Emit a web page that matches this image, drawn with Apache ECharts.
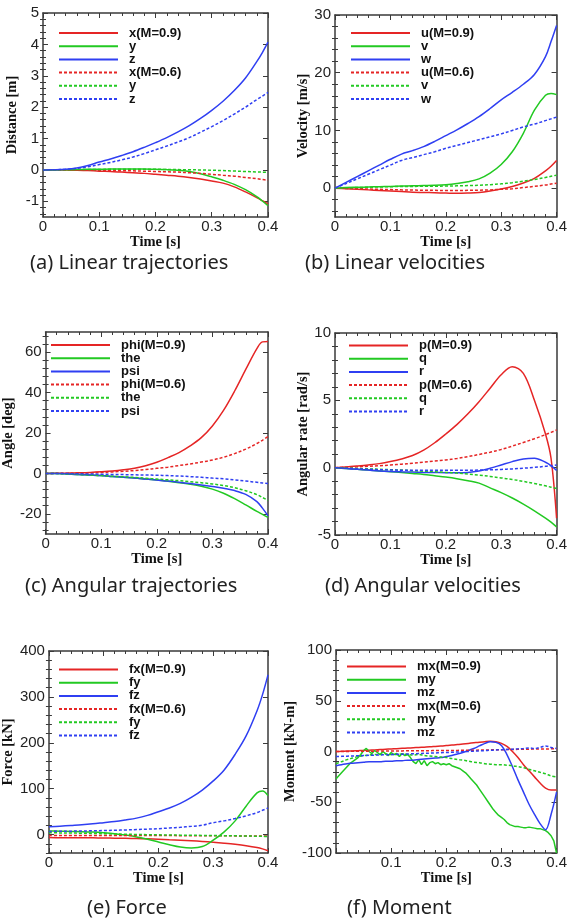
<!DOCTYPE html>
<html><head><meta charset="utf-8">
<script src="https://cdn.jsdelivr.net/npm/echarts@6/dist/echarts.min.js"></script>
<style>html,body{margin:0;padding:0;background:#fff}#c{width:570px;height:922px}</style>
</head><body><div id="c"></div>
<script>
// ---------- time axes ----------
const timeA = [0,0.02,0.04,0.06,0.08,0.10,0.12,0.14,0.16,0.18,0.20,0.22,0.24,0.26,0.28,0.30,0.32,0.34,0.36,0.38,0.39,0.40];
const timeF = [0,0.01,0.02,0.03,0.04,0.05,0.06,0.07,0.08,0.09,0.10,0.11,0.12,0.13,0.14,0.15,0.16,0.17,0.18,0.19,0.20,0.21,0.22,0.23,0.24,0.25,0.26,0.27,0.28,0.29,0.30,0.31,0.32,0.33,0.34,0.35,0.36,0.37,0.38,0.39,0.40];
const timeFine = [0,0.005,0.01,0.015,0.02,0.025,0.03,0.035,0.04,0.045,0.05,0.055,0.06,0.065,0.07,0.075,0.08,0.085,0.09,0.095,0.10,0.105,0.11,0.115,0.12,0.125,0.13,0.135,0.14,0.145,0.15,0.155,0.16,0.165,0.17,0.175,0.18,0.185,0.19,0.195,0.20,0.205,0.21,0.215,0.22,0.225,0.23,0.235,0.24,0.245,0.25,0.255,0.26,0.265,0.27,0.275,0.28,0.285,0.29,0.295,0.30,0.305,0.31,0.315,0.32,0.325,0.33,0.335,0.34,0.345,0.35,0.355,0.36,0.365,0.37,0.375,0.38,0.385,0.39,0.395,0.40];

// ---------- (a) Linear trajectories [m] ----------
const aLabels = ['x(M=0.9)','y','z','x(M=0.6)','y','z'];
const aX9 = [0,0,-0.005,-0.01,-0.02,-0.04,-0.05,-0.07,-0.09,-0.11,-0.14,-0.17,-0.2,-0.24,-0.29,-0.35,-0.42,-0.54,-0.7,-0.88,-0.98,-1.08];
const aY9 = [0,0,0.005,0.01,0.02,0.02,0.03,0.03,0.03,0.03,0.02,0.01,-0.01,-0.05,-0.12,-0.22,-0.33,-0.46,-0.63,-0.85,-0.99,-1.14];
const aZ9 = [0,0.005,0.02,0.06,0.14,0.25,0.35,0.46,0.58,0.72,0.87,1.03,1.21,1.41,1.64,1.9,2.19,2.53,2.93,3.45,3.74,4.07];
const aX6 = [0,0,0,-0.005,-0.01,-0.015,-0.02,-0.025,-0.03,-0.04,-0.05,-0.06,-0.07,-0.09,-0.11,-0.14,-0.17,-0.2,-0.24,-0.28,-0.305,-0.33];
const aY6 = [0,0,0.005,0.01,0.01,0.015,0.02,0.02,0.02,0.02,0.02,0.015,0.01,0.005,0,-0.01,-0.02,-0.035,-0.05,-0.065,-0.072,-0.08];
const aZ6 = [0,0.005,0.02,0.05,0.1,0.17,0.24,0.32,0.41,0.52,0.64,0.76,0.89,1.03,1.2,1.38,1.57,1.78,2.0,2.24,2.35,2.47];

// ---------- (b) Linear velocities [m/s] ----------
const bLabels = ['u(M=0.9)','v','w','u(M=0.6)','v','w'];
const bU9 = [0,-0.1,-0.2,-0.3,-0.4,-0.5,-0.6,-0.7,-0.75,-0.8,-0.85,-0.9,-0.85,-0.75,-0.5,-0.15,0.3,0.9,1.7,3.0,3.8,4.8];
const bV9 = [0,0.1,0.15,0.2,0.25,0.3,0.35,0.4,0.45,0.5,0.6,0.8,1.1,1.6,2.6,4.1,6.3,9.5,13.5,16.1,16.4,16.2];
const bW9 = [0,1,2,3,4,5,5.9,6.5,7.2,8.1,9.1,10.1,11.2,12.4,13.8,15.3,16.6,18.0,19.7,22.8,25.4,28.2];
const bU6 = [0,-0.05,-0.1,-0.15,-0.2,-0.25,-0.3,-0.33,-0.36,-0.38,-0.4,-0.4,-0.38,-0.35,-0.3,-0.2,-0.1,0.1,0.3,0.55,0.7,0.85];
const bV6 = [0,0.05,0.1,0.15,0.2,0.25,0.28,0.3,0.32,0.34,0.36,0.4,0.45,0.5,0.6,0.75,0.95,1.2,1.5,1.85,2.05,2.25];
const bW6 = [0,0.8,1.6,2.4,3.2,4.0,4.8,5.3,5.8,6.3,6.9,7.4,7.9,8.4,8.9,9.4,10.0,10.6,11.1,11.7,12.0,12.3];

// ---------- (c) Angular trajectories [deg] ----------
const cLabels = ['phi(M=0.9)','the','psi','phi(M=0.6)','the','psi'];
const cPhi9 = [0,0.05,0.15,0.3,0.5,0.8,1.2,1.8,2.6,3.8,5.5,7.8,10.3,13.6,17.7,23.5,31.2,40.8,51.5,61.8,65.1,65.3];
const cThe9 = [0,-0.1,-0.3,-0.5,-0.8,-1.1,-1.5,-1.9,-2.3,-2.8,-3.3,-3.9,-4.6,-5.4,-6.4,-7.8,-9.8,-12.5,-15.6,-18.8,-20.3,-21.8];
const cPsi9 = [0,-0.1,-0.3,-0.5,-0.8,-1.1,-1.5,-1.9,-2.3,-2.8,-3.3,-3.8,-4.4,-5.0,-5.7,-6.5,-7.4,-8.5,-10.4,-14,-17.2,-21];
const cPhi6 = [0,0.02,0.07,0.15,0.3,0.5,0.75,1.05,1.4,1.9,2.5,3.1,3.9,4.7,5.6,6.6,8.0,9.8,12.0,14.8,16.4,18.2];
const cThe6 = [0,-0.1,-0.3,-0.5,-0.8,-1.1,-1.4,-1.7,-2.0,-2.4,-2.8,-3.2,-3.6,-4.1,-4.6,-5.2,-6.0,-7.1,-8.6,-10.5,-11.9,-13.4];
const cPsi6 = [0,-0.05,-0.1,-0.2,-0.3,-0.4,-0.5,-0.6,-0.7,-0.8,-0.9,-1.1,-1.3,-1.6,-1.9,-2.3,-2.7,-3.2,-3.8,-4.4,-4.7,-5.0];

// ---------- (d) Angular velocities [rad/s] ----------
const dLabels = ['p(M=0.9)','q','r','p(M=0.6)','q','r'];
const dP9 = [0,0.05,0.12,0.2,0.3,0.45,0.64,0.9,1.3,1.85,2.5,3.2,4.0,4.9,5.9,6.9,7.5,7.0,5.0,2.5,0.7,-3.75];
const dQ9 = [0,-0.06,-0.12,-0.18,-0.24,-0.3,-0.36,-0.43,-0.5,-0.6,-0.7,-0.82,-0.97,-1.15,-1.5,-1.85,-2.25,-2.7,-3.2,-3.75,-4.05,-4.4];
const dR9 = [0,-0.06,-0.12,-0.18,-0.24,-0.28,-0.31,-0.33,-0.35,-0.36,-0.37,-0.37,-0.35,-0.25,-0.05,0.2,0.45,0.65,0.7,0.4,0.15,-0.2];
const dP6 = [0,0.03,0.06,0.1,0.14,0.2,0.26,0.33,0.41,0.49,0.57,0.68,0.82,0.98,1.15,1.35,1.6,1.87,2.15,2.45,2.62,2.8];
const dQ6 = [0,-0.03,-0.06,-0.09,-0.12,-0.15,-0.18,-0.22,-0.26,-0.3,-0.35,-0.4,-0.47,-0.55,-0.65,-0.76,-0.88,-1.02,-1.18,-1.35,-1.45,-1.55];
const dR6 = [0,-0.04,-0.08,-0.12,-0.15,-0.17,-0.19,-0.2,-0.2,-0.2,-0.2,-0.2,-0.19,-0.18,-0.16,-0.13,-0.09,-0.04,0.02,0.1,0.15,0.2];

// ---------- (e) Force [kN] ----------
const eLabels = ['fx(M=0.9)','fy','fz','fx(M=0.6)','fy','fz'];
const eFx9 = [-6.5,-6.6,-6.7,-6.8,-7,-7.3,-7.7,-8.1,-8.6,-9.2,-10,-11,-12,-13.2,-14.7,-16.5,-18.6,-21,-24,-28,-31,-35];
const eFy9 = [8,7.5,7,6.5,5.5,4,2,-1,-5,-10,-16,-22,-27,-29,-26,-12,6,30,62,91,95,85];
const eFz9 = [17,18.5,20,21.5,23.5,26,28.5,32,36,42,50,58,68,81,97,117,141,175,215,270,305,348];
const eFx6 = [-2,-2,-2,-2,-2,-2,-2,-2,-2,-2,-2,-2.1,-2.2,-2.3,-2.4,-2.5,-2.6,-2.7,-2.8,-2.9,-3,-3];
const eFy6 = [4,3.8,3.5,3.1,2.6,2,1.4,0.9,0.4,0,-0.4,-0.8,-1.1,-1.4,-1.7,-2,-2.3,-2.6,-3,-3.4,-3.7,-4];
const eFz6 = [7,7.3,7.6,8,8.4,8.9,9.5,10.2,11,12,13,14.5,16,18,20.5,26,30,35,41,48,53,58];

// ---------- (f) Moment [kN-m] ----------
const fLabels = ['mx(M=0.9)','my','mz','mx(M=0.6)','my','mz'];
const fMx9 = [0,0.2,0.4,0.6,0.8,1,1.3,1.6,1.9,2.2,2.5,2.8,3.1,3.4,3.7,4,4.3,4.6,5,5.4,5.8,6.3,6.8,7.4,8,8.6,9.2,9.7,10,9.6,8,5,0,-6,-13,-19,-25,-31,-36,-38,-38];
const fMy9 = [-27,-24,-21,-18,-15,-12,-10,-8,-6,-3,1,3,0,-2,1,-1,-3,0,-2,-4,-1,-3,-2,-5,-2,-4,-3,-6,-10,-12,-8,-13,-9,-14,-11,-10,-12,-11,-13,-12,-13,-12,-14,-15,-16,-17,-19,-21,-24,-27,-30,-33,-37,-41,-45,-49,-53,-57,-60,-63,-65,-67,-70,-72,-73,-74,-74,-74.5,-75,-75,-74.5,-75,-75.5,-76,-76,-77,-78,-80,-83,-88,-100];
const fMz9 = [-14,-13,-12,-11.5,-11,-10.5,-10,-10,-10,-9.5,-9.5,-9,-9,-8.5,-8.5,-8,-7.5,-7,-6.5,-6,-5,-4,-2.5,-1,1,3,5.5,8,9.5,9,6,-3,-15,-28,-40,-52,-62,-71,-77,-62,-40];
const fMx6 = [0,0.05,0.1,0.15,0.2,0.25,0.3,0.35,0.4,0.45,0.5,0.55,0.6,0.65,0.7,0.75,0.8,0.85,0.9,0.95,1,1.05,1.1,1.15,1.2,1.3,1.4,1.5,1.6,1.7,1.8,1.9,2,2.1,2.2,2.3,2.4,2.5,2.5,2.6,2.6];
const fMy6 = [-12,-10,-8,-6.5,-5,-4,-3.5,-3,-3,-2.5,-3,-3,-2.5,-3,-3.5,-3,-4,-4.5,-5,-5.5,-6,-7,-8,-8.5,-9.5,-10.5,-11,-12,-12.5,-13,-13,-13.5,-14,-15,-16,-17.5,-19,-20.5,-22,-24,-25];
const fMz6 = [-5,-4.8,-4.6,-4.4,-4.2,-4,-3.8,-3.6,-3.4,-3.2,-3,-2.8,-2.6,-2.4,-2.2,-2,-1.8,-1.6,-1.4,-1.2,-1,-0.8,-0.5,-0.2,0,0.3,0.6,0.9,1.2,1.5,1.8,2,2.3,2.6,3,3.5,3,4,5.5,4,3];

// ---------- y tick labels ----------
const aTicks = [-1,0,1,2,3,4,5];
const bTicks = [0,10,20,30];
const cTicks = [-20,0,20,40,60];
const dTicks = [-5,0,5,10];
const eTicks = [0,100,200,300,400];
const fTicks = [-100,-50,0,50,100];

// ---------- layout / style ----------
const COLORS = ['#e52525','#22c922','#2f3ff2','#e52525','#22c922','#2f3ff2'];
const AXIS_COLOR = '#3a3a3a';
const panels = [
  {key:'a', grid:{left:43,top:13,width:225,height:204}, y:[-1.5,5], ticks:aTicks, minor:0.2, yname:'Distance [m]', gap:23,
   legend:{left:58,top:26.5}, labels:aLabels, series:[aX9,aY9,aZ9,aX6,aY6,aZ6], time:[timeA,timeA,timeA,timeA,timeA,timeA],
   caption:{text:'(a) Linear trajectories', x:30, y:263}, showZero:true},
  {key:'b', grid:{left:335,top:15,width:225,height:202}, y:[-5,30], ticks:bTicks, minor:2, yname:'Velocity [m/s]', gap:18,
   legend:{left:350,top:26.5}, labels:bLabels, series:[bU9,bV9,bW9,bU6,bV6,bW6], time:[timeA,timeA,timeA,timeA,timeA,timeA],
   caption:{text:'(b) Linear velocities', x:305, y:263}, showZero:true},
  {key:'c', grid:{left:43,top:332,width:225,height:202}, y:[-30,70], ticks:cTicks, minor:4, yname:'Angle [deg]', gap:20,
   legend:{left:50,top:338.5}, labels:cLabels, series:[cPhi9,cThe9,cPsi9,cPhi6,cThe6,cPsi6], time:[timeA,timeA,timeA,timeA,timeA,timeA],
   caption:{text:'(c) Angular trajectories', x:25, y:586}, showZero:true},
  {key:'d', grid:{left:335,top:333,width:226,height:202}, y:[-5,10], ticks:dTicks, minor:1, yname:'Angular rate [rad/s]', gap:20,
   legend:{left:348,top:339}, labels:dLabels, series:[dP9,dQ9,dR9,dP6,dQ6,dR6], time:[timeA,timeA,timeA,timeA,timeA,timeA],
   caption:{text:'(d) Angular velocities', x:325, y:586}, showZero:true},
  {key:'e', grid:{left:43,top:651,width:225,height:202}, y:[-40,400], ticks:eTicks, minor:20, yname:'Force [kN]', gap:26,
   legend:{left:58,top:663}, labels:eLabels, series:[eFx9,eFy9,eFz9,eFx6,eFy6,eFz6], time:[timeA,timeA,timeA,timeA,timeA,timeA],
   caption:{text:'(e) Force', x:87, y:908}, showZero:true},
  {key:'f', grid:{left:336,top:650,width:226,height:203}, y:[-100,100], ticks:fTicks, minor:10, yname:'Moment [kN-m]', gap:21,
   legend:{left:346,top:660}, labels:fLabels, series:[fMx9,fMy9,fMz9,fMx6,fMy6,fMz6], time:[timeF,timeFine,timeF,timeF,timeF,timeF],
   caption:{text:'(f) Moment', x:347, y:908}, showZero:false}
];

function minorValues(min, max, step, majors) {
  const out = [];
  const start = Math.ceil(min / step - 1e-9);
  for (let k = start; k * step <= max + 1e-9; k++) {
    const v = +(k * step).toFixed(6);
    if (!majors.some(m => Math.abs(m - v) < 1e-9)) out.push(v);
  }
  return out;
}

const grids = [], xAxes = [], yAxes = [], series = [], legends = [], graphics = [];
const lineStyleAxis = {color: AXIS_COLOR, width: 1.5};
const labelFont = {color:'#222', fontSize:15, fontFamily:'Liberation Sans'};
panels.forEach((p, g) => {
  grids.push(Object.assign({containLabel:false}, p.grid));
  const xBase = {gridIndex:g, type:'value', min:0, max:0.4, interval:0.1, splitLine:{show:false},
    axisLine:{show:true, onZero:false, lineStyle:lineStyleAxis},
    axisTick:{show:true, inside:true, length:5, lineStyle:{color:AXIS_COLOR, width:1}},
    minorTick:{show:true, splitNumber:5, length:3, lineStyle:{color:AXIS_COLOR, width:1}}};
  xAxes.push(Object.assign({}, xBase, {position:'bottom',
    axisLabel:Object.assign({show:true, margin:2,
      formatter: v => (Math.abs(v) < 1e-9 ? (p.showZero ? '0' : '') : (+v.toFixed(1)).toString())}, labelFont),
    name:'Time [s]', nameLocation:'middle', nameGap:17,
    nameTextStyle:{fontFamily:'Liberation Serif', fontWeight:'bold', fontSize:14.5, color:'#111'}}));
  xAxes.push(Object.assign({}, xBase, {position:'top', axisLabel:{show:false}}));
  const minors = minorValues(p.y[0], p.y[1], p.minor, p.ticks);
  const yBase = {gridIndex:g, type:'value', min:p.y[0], max:p.y[1], splitLine:{show:false}};
  yAxes.push(Object.assign({}, yBase, {position:'left',
    axisLine:{show:true, onZero:false, lineStyle:lineStyleAxis},
    axisTick:{show:true, inside:true, length:5, customValues:p.ticks, lineStyle:{color:AXIS_COLOR, width:1}},
    axisLabel:Object.assign({show:true, customValues:p.ticks, margin:4}, labelFont),
    name:p.yname, nameLocation:'middle', nameGap:p.gap,
    nameTextStyle:{fontFamily:'Liberation Serif', fontWeight:'bold', fontSize:14.5, color:'#111'}}));
  yAxes.push(Object.assign({}, yBase, {position:'left', axisLine:{show:false},
    axisTick:{show:true, inside:true, length:3, customValues:minors, lineStyle:{color:AXIS_COLOR, width:1}},
    axisLabel:{show:false}}));
  yAxes.push(Object.assign({}, yBase, {position:'right',
    axisLine:{show:true, onZero:false, lineStyle:lineStyleAxis},
    axisTick:{show:true, inside:true, length:5, customValues:p.ticks, lineStyle:{color:AXIS_COLOR, width:1}},
    axisLabel:{show:false}}));
  yAxes.push(Object.assign({}, yBase, {position:'right', axisLine:{show:false},
    axisTick:{show:true, inside:true, length:3, customValues:minors, lineStyle:{color:AXIS_COLOR, width:1}},
    axisLabel:{show:false}}));

  const names = [];
  p.series.forEach((vals, i) => {
    const name = p.key + i + '|' + p.labels[i];
    names.push(name);
    const t = p.time[i];
    series.push({
      type:'line', name, xAxisIndex:2*g, yAxisIndex:4*g,
      data: vals.map((v, k) => [t[k], v]),
      symbol:'none', showSymbol:false, clip:true,
      smooth: (t === timeFine) ? false : 0.35,
      lineStyle:{color:COLORS[i], width:1.5, type: i < 3 ? 'solid' : [3, 2]},
      itemStyle:{color:COLORS[i]},
      emphasis:{disabled:true}, silent:true, animation:false
    });
  });
  legends.push({
    data:names, orient:'vertical', left:p.legend.left, top:p.legend.top, padding:0,
    itemWidth:59, itemHeight:13, itemGap:0.2, selectedMode:false,
    itemStyle:{opacity:0, borderWidth:0},
    lineStyle:{width:2},
    formatter: n => n.split('|')[1],
    textStyle:{fontFamily:'Liberation Sans', fontWeight:'bold', fontSize:13, lineHeight:13, color:'#111', padding:[0,0,0,6]}
  });
  graphics.push({type:'text', x:p.caption.x, y:p.caption.y,
    style:{text:p.caption.text, fontSize:20, fontFamily:'Noto Sans', fill:'#222', verticalAlign:'middle', align:'left'}});
});

const chart = echarts.init(document.getElementById('c'), null, {renderer:'canvas'});
chart.setOption({
  animation:false, backgroundColor:'#ffffff',
  grid:grids, xAxis:xAxes, yAxis:yAxes, series, legend:legends, graphic:graphics
});
</script></body></html>
